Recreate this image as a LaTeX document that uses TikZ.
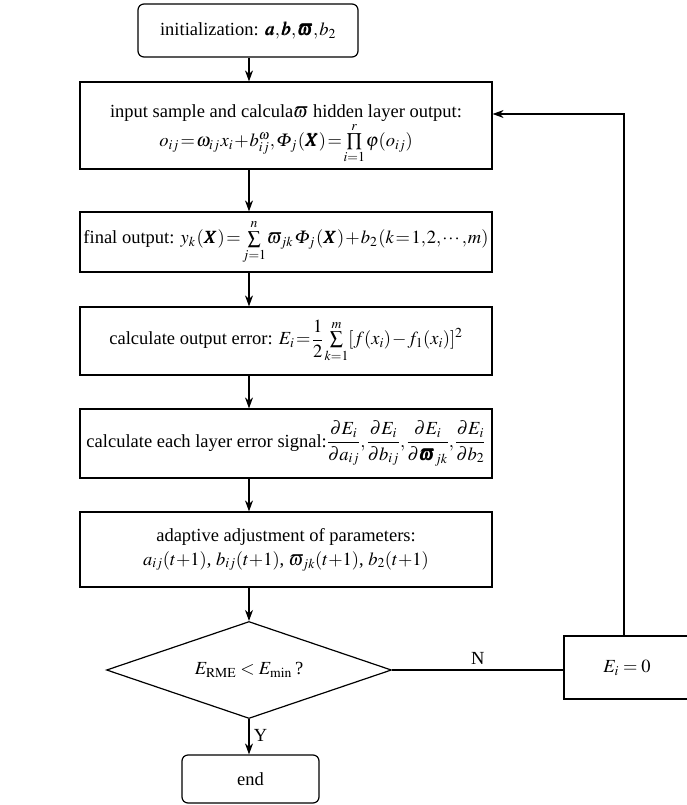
\documentclass[tikz,border=0pt]{standalone}
\usepackage{amsmath}
\usepackage{mathptmx}
\usepackage{bm}
\usepackage{fontspec}
\setmainfont{Liberation Serif}
\usetikzlibrary{arrows.meta,shapes.geometric}
\begin{document}
\begin{tikzpicture}[x=1pt,y=-1pt,
  font=\fontsize{18.5}{24}\selectfont,
  conn/.style={line width=1.2pt},
  tight/.style={execute at begin node={\medmuskip=1mu\thickmuskip=1.5mu\thinmuskip=1mu}},
  box/.style={draw, conn, inner sep=0pt, align=center},
  procbox/.style={box, tight, minimum width=412pt},
  termbox/.style={box, rounded corners=6pt},
  arr/.style={conn, -{Stealth[length=11pt,width=8pt,inset=3.5pt]}}]
\useasboundingbox (0,0) rectangle (687,805);

\node[termbox, tight, minimum width=220pt, minimum height=53pt] (init) at (248,30.5)
  {initialization: $\bm{a},\bm{b},\bm{\varpi},b_2$};

\node[procbox, minimum height=87pt] (s1) at (286,125.5)
  {input sample and calcula$\varpi$ hidden layer output:\\[0pt]
   $\smash[b]{o_{ij}=\omega_{ij}\,x_i+b_{ij}^{\omega},\varPhi_j\,(\bm{X})=\prod\limits_{i=1}^{r}\varphi(o_{ij})}$};

\node[procbox, minimum height=60pt] (s2) at (286,242)
  {final output: $y_k\,(\bm{X})=\sum\limits_{j=1}^{n}\varpi_{jk}\,\varPhi_j\,(\bm{X})+b_2\,(k=1,2,\cdots,m)$};

\node[procbox, minimum height=68pt] (s3) at (286,341)
  {calculate output error: $E_i=\dfrac{1}{2}\sum\limits_{k=1}^{m}[f(x_i)-f_1(x_i)]^2$};

\node[procbox, minimum height=69pt] (s4) at (286,443.5)
  {calculate each layer error signal:$\dfrac{\partial E_i}{\partial a_{ij}},\dfrac{\partial E_i}{\partial b_{ij}},\dfrac{\partial E_i}{\partial \bm{\varpi}_{jk}},\dfrac{\partial E_i}{\partial b_2}$};

\node[procbox, minimum height=75pt] (s5) at (286,549.5)
  {adaptive adjustment of parameters:\\
   $a_{ij}(t{+}1)$, $b_{ij}(t{+}1)$, $\varpi_{jk}(t{+}1)$, $b_2(t{+}1)$};

\node[draw, conn, diamond, aspect=2.94, inner sep=0pt,
      minimum width=285pt, minimum height=97pt] (dec) at (249,670)
  {$E_{\mathrm{RME}}<E_{\min}$\,?};

\node[box, minimum width=126pt, minimum height=63pt] (ez) at (627,667.5) {$E_i=0$};

\node[termbox, minimum width=137pt, minimum height=48pt] (end) at (250.5,779) {end};

\coordinate (ax) at (249,0);
\coordinate (c1) at (624,114);

\draw[arr] (ax |- init.south) -- (ax |- s1.north);
\draw[arr] (ax |- s1.south) -- (ax |- s2.north);
\draw[arr] (ax |- s2.south) -- (ax |- s3.north);
\draw[arr] (ax |- s3.south) -- (ax |- s4.north);
\draw[arr] (ax |- s4.south) -- (ax |- s5.north);
\draw[arr] (ax |- s5.south) -- (dec.north);
\draw[arr] (dec.south) -- (dec.south |- end.north)
  node[pos=0.45, right=1pt] {Y};
\draw[conn] (dec.east) -- (dec.east -| ez.west)
  node[pos=0.5, above=2pt] {N};
\draw[arr] (c1 |- ez.north) -- (c1) -- (c1 -| s1.east);
\end{tikzpicture}
\end{document}
